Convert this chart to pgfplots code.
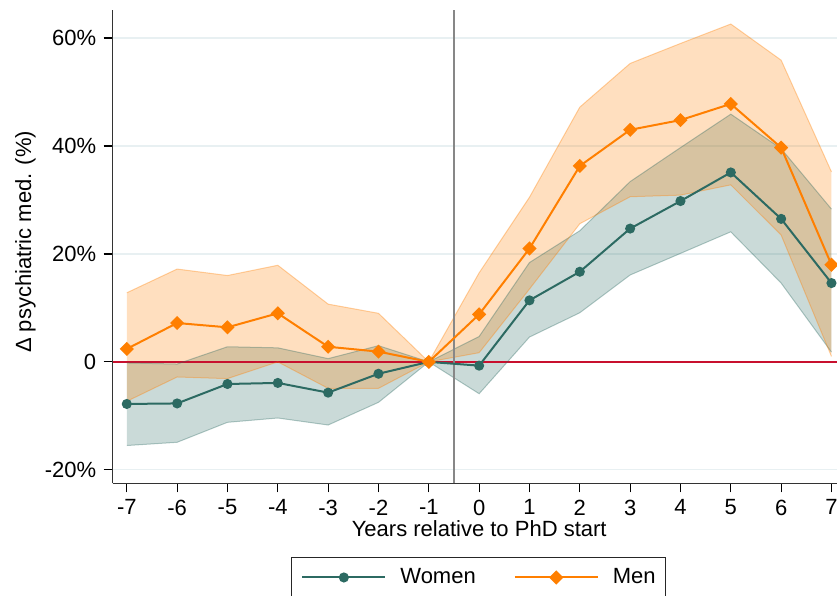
\documentclass[border=0pt]{standalone}
\usepackage{fontspec}
\setmainfont{Liberation Sans}
\usepackage{pgfplots}
\usepackage{pgfplotstable}
\pgfplotsset{compat=1.18}
\usepgfplotslibrary{fillbetween}

\definecolor{tealc}{RGB}{44,106,98}
\definecolor{orng}{RGB}{255,127,0}
\definecolor{zeroc}{RGB}{200,16,46}
\definecolor{gridc}{RGB}{232,240,242}
\definecolor{vline}{RGB}{135,135,135}

% year, estimate, 95% CI lower, upper (in %)
\pgfplotstableread{
x est lo hi
-7 -7.8 -15.5 -0.2
-6 -7.7 -14.9 -0.4
-5 -4.1 -11.2 2.8
-4 -3.9 -10.4 2.6
-3 -5.7 -11.7 0.6
-2 -2.2 -7.5 3.0
-1 0 0 0
0 -0.7 -5.9 4.7
1 11.4 4.6 18.4
2 16.7 9.1 24.3
3 24.7 16.1 33.4
4 29.8 20.1 39.7
5 35.1 24.1 45.9
6 26.5 14.6 39.5
7 14.6 1.8 28.3
}\women

\pgfplotstableread{
x est lo hi
-7 2.4 -7.3 12.8
-6 7.2 -2.8 17.2
-5 6.4 -3.1 16.0
-4 9.0 0.0 17.9
-3 2.8 -4.9 10.7
-2 1.9 -4.9 9.0
-1 0 0 0
0 8.8 1.7 16.5
1 21.0 13.5 30.5
2 36.3 25.6 47.2
3 43.0 30.6 55.3
4 44.8 30.9 59.0
5 47.8 32.8 62.6
6 39.7 23.5 55.9
7 18.0 1.0 35.2
}\men

\begin{document}
\fontsize{22}{26}\selectfont
\begin{tikzpicture}
\begin{axis}[
    scale only axis,
    width=724.3pt, height=473.3pt,
    xmin=-7.28, xmax=7.11,
    ymin=-22.5, ymax=65.2,
    axis x line*=bottom, axis y line*=left,
    axis line style={line width=1.2pt, black!80},
    tick align=outside,
    major tick length=9pt,
    tick style={line width=1.2pt, black},
    xtick={-7,...,7},
    xticklabels={-7,-6,-5,-4,-3,-2,-1,0,1,2,3,4,5,6,7},
    ytick={-20,0,20,40,60},
    yticklabels={-20\%,0,20\%,40\%,60\%},
    ymajorgrids,
    grid style={gridc, line width=1.3pt},
    xlabel={Years relative to PhD start},
    ylabel={Δ psychiatric med. (\%)},
    xlabel style={at={(axis description cs:0.506,-0.1128)}, anchor=base},
    ylabel style={at={(axis description cs:-0.1128,0.51)}, anchor=base},
    legend columns=2,
    legend style={at={(0.505,-0.155)}, anchor=north,
        draw=black!85, line width=1.2pt,
        inner xsep=10pt, inner ysep=11pt,
        nodes={inner sep=0pt},
        /tikz/every odd column/.style={column sep=14pt},
        /tikz/every even column/.style={column sep=38pt}},
    legend image code/.code={%
        \draw[mark repeat=2,mark phase=2,#1]
        plot coordinates {(0pt,0pt) (41.5pt,0pt) (83pt,0pt)};},
]
% zero line
\addplot[forget plot, zeroc, line width=2pt] coordinates {(-7.28,0) (7.11,0)};

% women band
\addplot[forget plot, name path=wu, draw=tealc, draw opacity=0.35, line width=1pt, mark=none] table[x=x, y=hi] {\women};
\addplot[forget plot, name path=wl, draw=tealc, draw opacity=0.35, line width=1pt, mark=none] table[x=x, y=lo] {\women};
\addplot[forget plot, fill=tealc, fill opacity=0.25, draw=none] fill between[of=wu and wl];

% men band
\addplot[forget plot, name path=mu, draw=orng, draw opacity=0.35, line width=1pt, mark=none] table[x=x, y=hi] {\men};
\addplot[forget plot, name path=ml, draw=orng, draw opacity=0.35, line width=1pt, mark=none] table[x=x, y=lo] {\men};
\addplot[forget plot, fill=orng, fill opacity=0.25, draw=none] fill between[of=mu and ml];

% PhD start marker
\addplot[forget plot, vline, line width=2.2pt] coordinates {(-0.5,-22.5) (-0.5,65.2)};

\addplot[tealc, line width=2pt, mark=*, mark size=4pt, mark options={solid}] table[x=x, y=est] {\women};
\addlegendentry{Women}
\addplot[orng, line width=2pt, mark=square*, mark size=4pt, mark options={solid, rotate=45}] table[x=x, y=est] {\men};
\addlegendentry{Men}
\end{axis}
\pgfresetboundingbox
\useasboundingbox (-112.7pt,-111.7pt) rectangle (724.3pt,483.3pt);
\end{tikzpicture}
\end{document}
